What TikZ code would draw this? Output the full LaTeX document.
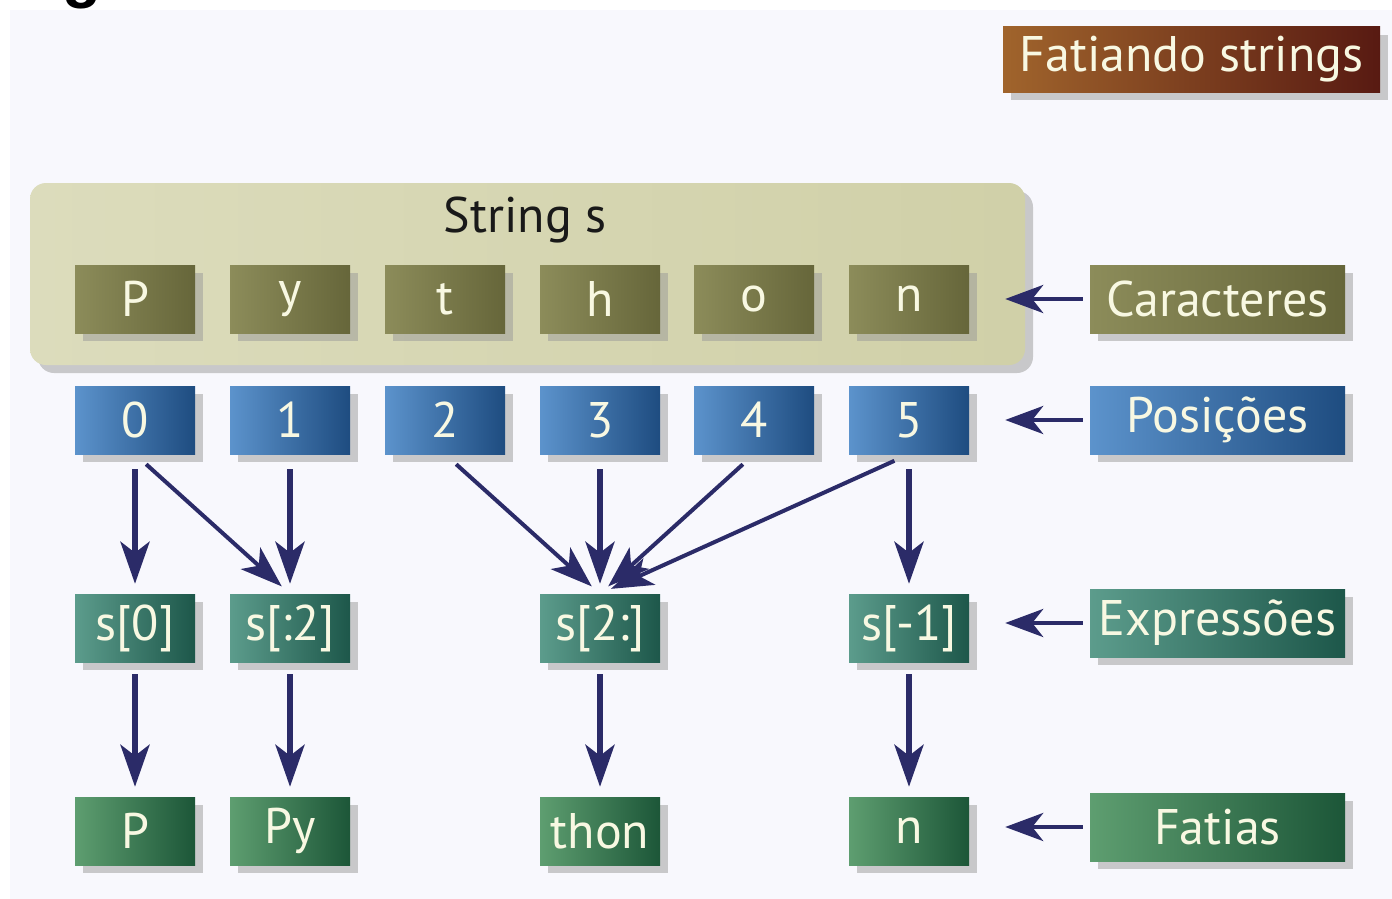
\documentclass[tikz,border=0pt]{standalone}
\usepackage{fontspec}
\setmainfont{PT Sans}
\newfontfamily\gfont{Liberation Sans}
\usetikzlibrary{shadows,arrows.meta}
\definecolor{bg}{HTML}{F8F8FD}
\definecolor{navy}{HTML}{2B2B68}
\definecolor{txt}{HTML}{F8F8E2}
\definecolor{olA}{HTML}{8C8C5A}
\definecolor{olB}{HTML}{66663A}
\definecolor{blA}{HTML}{5C93CC}
\definecolor{blB}{HTML}{1E4C80}
\definecolor{tlA}{HTML}{5C9C8C}
\definecolor{tlB}{HTML}{1D574A}
\definecolor{grA}{HTML}{5E9E70}
\definecolor{grB}{HTML}{1C5638}
\definecolor{brA}{HTML}{A0642C}
\definecolor{brB}{HTML}{581A12}
\definecolor{khA}{HTML}{DCDCBC}
\definecolor{khB}{HTML}{D0D0A8}
\tikzset{
  shad/.style={drop shadow={shadow xshift=8pt,shadow yshift=-8pt,fill=black!40,opacity=0.5}},
  box/.style={shad,minimum width=120pt,minimum height=68pt,inner sep=0pt,text=txt,
    font=\fontsize{50}{54}\selectfont},
  lab/.style={box,minimum width=255pt},
  olive/.style={left color=olA,right color=olB},
  blue/.style={left color=blA,right color=blB},
  teal/.style={left color=tlA,right color=tlB},
  green/.style={left color=grA,right color=grB},
  arr/.style={draw=navy,line width=6pt,-{Stealth[length=42pt,width=29pt,inset=11pt]}},
  darr/.style={draw=navy,line width=4pt,-{Stealth[length=42pt,width=29pt,inset=11pt]}},
  larr/.style={draw=navy,line width=4.5pt,-{Stealth[length=38pt,width=28pt,inset=11pt]},
    shorten <=7pt},
}
\begin{document}
\begin{tikzpicture}[x=1pt,y=-1pt]
\useasboundingbox (0,0) rectangle (1392,899);
\fill[white] (0,0) rectangle (1392,899);
\fill[bg] (10,10) rectangle (1392,899);
\begin{scope}
\clip (0,0) rectangle (1392,10);
\node[anchor=base,text=black,font=\gfont\bfseries\fontsize{64}{70}\selectfont,inner sep=0pt] (gfrag) at (82,-4) {g};
\end{scope}
% title
\node[shad,left color=brA,right color=brB,minimum width=377pt,minimum height=65pt,inner sep=0pt,
  text=txt,font=\fontsize{50}{54}\selectfont] (title) at (1191.5,59.5) {Fatiando strings};
% container
\node[shad,rounded corners=16pt,left color=khA,right color=khB,minimum width=995pt,minimum height=182pt] (cont) at (527.5,274) {};
\node[text=black!90,font=\fontsize{50}{54}\selectfont] (stitle) at (525,220) {String s};
% characters
\node[box,olive] (c0) at (135,299) {P};
\node[box,olive] (c1) at (290,299) {y};
\node[box,olive] (c2) at (445,299) {t};
\node[box,olive] (c3) at (600,299) {h};
\node[box,olive] (c4) at (754,299) {o};
\node[box,olive] (c5) at (909,299) {n};
% positions
\node[box,blue] (p0) at (135,420) {0};
\node[box,blue] (p1) at (290,420) {1};
\node[box,blue] (p2) at (445,420) {2};
\node[box,blue] (p3) at (600,420) {3};
\node[box,blue] (p4) at (754,420) {4};
\node[box,blue] (p5) at (909,420) {5};
% expressions
\node[box,teal] (e0) at (135,628) {s[0]};
\node[box,teal] (e1) at (290,628) {s[:2]};
\node[box,teal] (e2) at (600,628) {s[2:]};
\node[box,teal] (e3) at (909,628) {s[-1]};
% slices
\node[box,green] (f0) at (135,831) {P};
\node[box,green] (f1) at (290,831) {Py};
\node[box,green] (f2) at (600,831) {thon};
\node[box,green] (f3) at (909,831) {n};
% labels
\node[lab,olive] (lc) at (1217.5,299) {Caracteres};
\node[lab,blue] (lp) at (1217.5,420) {Posições};
\node[lab,teal] (le) at (1217.5,623) {Expressões};
\node[lab,green] (lf) at (1217.5,827) {Fatias};
% arrows positions -> expressions
\draw[arr,shorten <=15pt,shorten >=10pt] (p0.south) -- (e0.north);
\draw[darr,shorten <=15pt,shorten >=11pt] (p0.south) -- (e1.north);
\draw[arr,shorten <=15pt,shorten >=10pt] (p1.south) -- (e1.north);
\draw[darr,shorten <=15pt,shorten >=11pt] (p2.south) -- (e2.north);
\draw[arr,shorten <=15pt,shorten >=10pt] (p3.south) -- (e2.north);
\draw[darr,shorten <=15pt,shorten >=11pt] (p4.south) -- (e2.north);
\draw[darr,shorten <=16pt,shorten >=12pt] (p5.south) -- (e2.north);
\draw[arr,shorten <=15pt,shorten >=10pt] (p5.south) -- (e3.north);
% arrows expressions -> slices
\draw[arr,shorten <=12pt,shorten >=10pt] (e0.south) -- (f0.north);
\draw[arr,shorten <=12pt,shorten >=10pt] (e1.south) -- (f1.north);
\draw[arr,shorten <=12pt,shorten >=10pt] (e2.south) -- (f2.north);
\draw[arr,shorten <=12pt,shorten >=10pt] (e3.south) -- (f3.north);
% label arrows
\draw[larr,shorten >=-20pt] (lc.west) -- (lc.west -| cont.east);
\draw[larr,shorten >=36pt] (lp.west) -- (lp.west -| p5.east);
\draw[larr,shorten >=36pt] (le.west) -- (le.west -| e3.east);
\draw[larr,shorten >=36pt] (lf.west) -- (lf.west -| f3.east);
\end{tikzpicture}
\end{document}
